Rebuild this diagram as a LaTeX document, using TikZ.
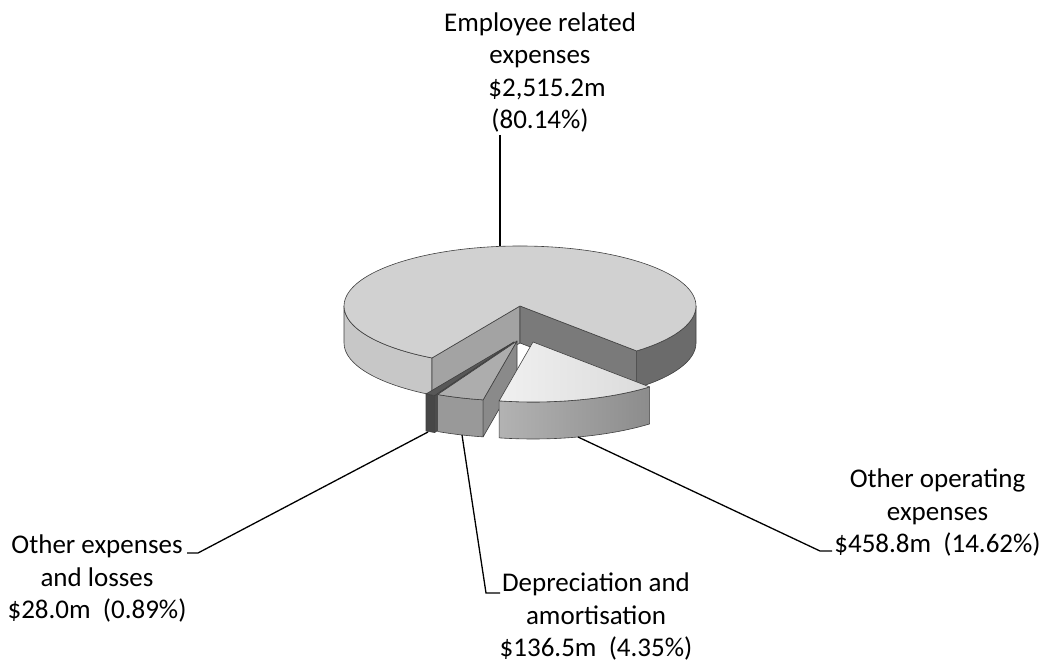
\documentclass[tikz,border=0pt]{standalone}
\usepackage{fontspec}
\setmainfont{Carlito}
\usetikzlibrary{calc}
\begin{document}
\begin{tikzpicture}[x=1pt,y=1pt,
  face/.style={draw=black!75, line width=0.6pt, line join=round},
  lbl/.style={align=center, inner sep=0pt, anchor=base, font=\fontsize{27}{32.5}\selectfont, text=black},
  leader/.style={draw=black, line width=1.3pt, line join=miter},
  er/.style={x radius=176, y radius=60}
]
\useasboundingbox[fill=white] (0,0) rectangle (1046,666);
% ---------- main slice: employee related expenses ----------
\coordinate (C) at (520,360);
\path[face, fill=black!22] ($(C)+(180:176 and 60)$) arc[start angle=180, end angle=240, er] -- ++(0,-37) arc[start angle=240, end angle=180, er] -- cycle;
\path[face, fill=black!58] ($(C)+(-48.5:176 and 60)$) arc[start angle=-48.5, end angle=0, er] -- ++(0,-37) arc[start angle=0, end angle=-48.5, er] -- cycle;
\path[face, fill=black!36] (C) -- ++(240:176 and 60) -- ++(0,-37) -- ($(C)+(0,-37)$) -- cycle;
\path[face, fill=black!52] (C) -- ++(-48.5:176 and 60) -- ++(0,-37) -- ($(C)+(0,-37)$) -- cycle;
\path[face, fill=black!18] (C) -- ++(-48.5:176 and 60) arc[start angle=-48.5, end angle=240, er] -- cycle;
% ---------- other expenses and losses ----------
\coordinate (Co) at (514,324);
\path[face, fill=black!72] ($(Co)+(240:176 and 60)$) arc[start angle=240, end angle=243.2, er] -- ++(0,-37) arc[start angle=243.2, end angle=240, er] -- cycle;
\path[face, fill=black!70] (Co) -- ++(243.2:176 and 60) -- ++(0,-37) -- ($(Co)+(0,-37)$) -- cycle;
\path[face, fill=black!66] (Co) -- ++(240:176 and 60) arc[start angle=240, end angle=243.2, er] -- cycle;
% ---------- depreciation and amortisation ----------
\coordinate (Cd) at (517,325);
\path[face, fill=black!40] ($(Cd)+(243.2:176 and 60)$) arc[start angle=243.2, end angle=258.9, er] -- ++(0,-37) arc[start angle=258.9, end angle=243.2, er] -- cycle;
\path[face, fill=black!46] (Cd) -- ++(258.9:176 and 60) -- ++(0,-37) -- ($(Cd)+(0,-37)$) -- cycle;
\path[face, fill=black!32] (Cd) -- ++(243.2:176 and 60) arc[start angle=243.2, end angle=258.9, er] -- cycle;
% ---------- other operating expenses ----------
\coordinate (Cp) at (533,324);
\path[face, left color=black!30, right color=black!45] ($(Cp)+(258.9:176 and 60)$) arc[start angle=258.9, end angle=311.5, er] -- ++(0,-37) arc[start angle=311.5, end angle=258.9, er] -- cycle;
\path[face, left color=black!6, right color=black!14] (Cp) -- ++(258.9:176 and 60) arc[start angle=258.9, end angle=311.5, er] -- cycle;
% ---------- labels (anchor = baseline of last line) ----------
\node[lbl] (emp) at (540,537) {Employee related\\expenses\\\hspace*{14pt}\$2,515.2m\\(80.14\%)};
\node[lbl] (oex) at (97,47) {Other expenses\\and losses\\\$28.0m\ \ (0.89\%)};
\node[lbl] (dep) at (596,9) {Depreciation and\\amortisation\\\$136.5m\ \ (4.35\%)};
\node[lbl] (oop) at (937.5,113) {Other operating\\expenses\\\$458.8m\ \ (14.62\%)};
% ---------- leader lines ----------
\coordinate (empA) at (500,531);
\coordinate (empB) at (500,420);
\coordinate (oexA) at (187,113);
\coordinate (oexK) at (198,113);
\coordinate (oexB) at (428,234);
\coordinate (depA) at (500,73);
\coordinate (depK) at (486,73);
\coordinate (depB) at (462,231);
\coordinate (oopA) at (832,115);
\coordinate (oopK) at (820,115);
\coordinate (oopB) at (578,229);
\draw[leader, line width=2.6pt] (empA) -- (empB);
\draw[leader] (oexA) -- (oexK) -- (oexB);
\draw[leader] (depA) -- (depK) -- (depB);
\draw[leader] (oopA) -- (oopK) -- (oopB);
\end{tikzpicture}
\end{document}
